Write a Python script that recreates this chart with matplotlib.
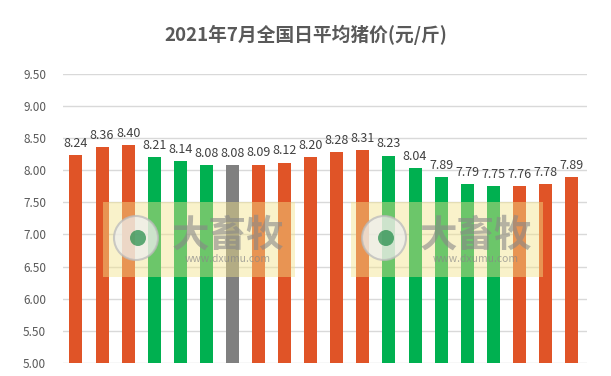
import matplotlib.pyplot as plt
from matplotlib.patches import Rectangle, Ellipse

plt.rcParams['font.family'] = ['Noto Sans CJK SC', 'DejaVu Sans']

# daily average pig price, July 2021 (yuan/jin)
days = list(range(1, 21))
prices = [8.24, 8.36, 8.40, 8.21, 8.14, 8.08, 8.08, 8.09, 8.12, 8.20,
          8.28, 8.31, 8.23, 8.04, 7.89, 7.79, 7.75, 7.76, 7.78, 7.89]
# up / down / flat vs previous day
trend = ['up', 'up', 'up', 'down', 'down', 'down', 'flat', 'up', 'up', 'up',
         'up', 'up', 'down', 'down', 'down', 'down', 'down', 'up', 'up', 'up']
yticks = [5.0, 5.5, 6.0, 6.5, 7.0, 7.5, 8.0, 8.5, 9.0, 9.5]

colors = {'up': '#E05427', 'down': '#00B050', 'flat': '#808080'}

W, H = 611, 376
fig = plt.figure(figsize=(W / 100, H / 100), dpi=100)
ax = fig.add_axes([0.103, 0.035, 0.858, 0.768])

bars = ax.bar(days, prices, width=0.5, color=[colors[t] for t in trend], zorder=2)
for b, v in zip(bars, prices):
    ax.text(b.get_x() + b.get_width() / 2, v + 0.08, f'{v:.2f}',
            ha='center', va='bottom', fontsize=9, color='#404040', zorder=3)

ax.set_ylim(5.0, 9.5)
ax.set_xlim(0.5, 20.6)
ax.set_yticks(yticks)
ax.set_yticklabels([f'{t:.2f}' for t in yticks], fontsize=8.5, color='#595959')
ax.set_xticks([])
ax.grid(axis='y', color='#D9D9D9', linewidth=1, zorder=0)
for s in ax.spines.values():
    s.set_visible(False)
ax.tick_params(axis='y', length=0, pad=12)

fig.suptitle('2021年7月全国日平均猪价(元/斤)', x=0.5, y=0.935, fontsize=13.5,
             fontweight='bold', color='#595959')

# watermarks (pixel positions of the two stamps)
for px in [103, 351]:
    fig.patches.append(Rectangle((px / W, 1 - 277 / H), 192 / W, 75 / H,
                                 transform=fig.transFigure,
                                 facecolor='#F2E38A', alpha=0.45, zorder=5))
    cx, cy, r = px + 33, 238, 22
    fig.patches.append(Ellipse((cx / W, 1 - cy / H), 2 * r / W, 2 * r / H,
                               transform=fig.transFigure, facecolor='#EEEEEE',
                               edgecolor='#BBBBBB', lw=1.5, alpha=0.75, zorder=6))
    fig.patches.append(Ellipse(((cx + 2) / W, 1 - cy / H), 16 / W, 16 / H,
                               transform=fig.transFigure, facecolor='#1E8A45',
                               alpha=0.7, zorder=6))
    fig.text((px + 125) / W, 1 - 235 / H, '大畜牧', fontsize=27, fontweight='bold',
             color='#888888', alpha=0.6, ha='center', va='center', zorder=7)
    fig.text((px + 125) / W, 1 - 259 / H, 'www.dxumu.com', fontsize=7.5, color='#888888',
             alpha=0.7, ha='center', va='center', zorder=7)

fig.savefig('out.png', dpi=100)
